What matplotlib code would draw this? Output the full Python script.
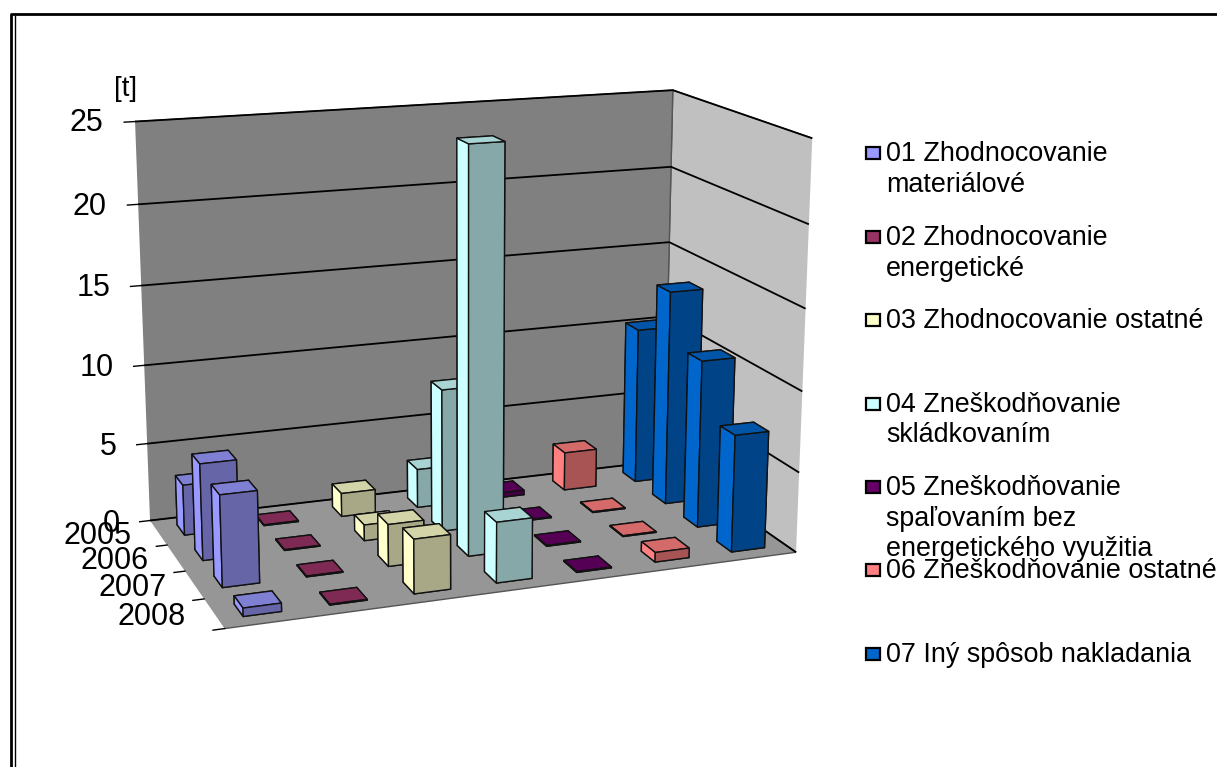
import matplotlib
matplotlib.use("Agg")
import matplotlib.pyplot as plt
from matplotlib.colors import to_rgb
from matplotlib.patches import Rectangle
import numpy as np

plt.rcParams['font.family'] = ['Liberation Sans', 'DejaVu Sans']

years = ["2005", "2006", "2007", "2008"]
series_names = [
    "01 Zhodnocovanie\nmateriálové",
    "02 Zhodnocovanie\nenergetické",
    "03 Zhodnocovanie ostatné",
    "04 Zneškodňovanie\nskládkovaním",
    "05 Zneškodňovanie\nspaľovaním bez\nenergetického využitia",
    "06 Zneškodňovanie ostatné",
    "07 Iný spôsob nakladania",
]
series_colors = ["#9999FF", "#993366", "#FFFFCC", "#CCFFFF", "#660066", "#FF8080", "#0066CC"]
legend_y = [154, 238, 321, 405, 488, 571, 655]

v01 = [3.2, 6.0, 5.6, 0.5]
v02 = [0.05, 0.05, 0.05, 0.05]
v03 = [1.5, 1.0, 2.6, 3.3]
v04 = [2.5, 9.0, 24.8, 3.7]
v05 = [0.3, 0.05, 0.05, 0.05]
v06 = [2.5, 0.05, 0.05, 0.6]
v07 = [10.2, 13.8, 10.6, 7.3]
values = [v01, v02, v03, v04, v05, v06, v07]
z_ticks = [0, 5, 10, 15, 20, 25]

fig = plt.figure(figsize=(12.17, 7.67), dpi=100, facecolor='white')
ax = fig.add_axes([-0.017, -0.117, 0.78, 1.32], projection='3d')
ax.patch.set_alpha(0)
ax.set_proj_type('persp', focal_length=0.45)
ax.view_init(elev=15, azim=-110)
ax.set_box_aspect((7, 3.75, 5.0), zoom=0.807)

n_series, n_years = len(values), len(years)
bar_dx, bar_dy = 0.44, 0.42
xs, ys, dz, face_colors = [], [], [], []
for s, vals in enumerate(values):
    base = np.array(to_rgb(series_colors[s]))
    for i, v in enumerate(vals):
        xs.append(s + (1 - bar_dx) / 2)
        ys.append(n_years - 1 - i + (1 - bar_dy) / 2)
        dz.append(v)
        # bottom, top, front, back, left, right
        face_colors += [base * 0.6, base * 0.83, base * 0.66, base * 0.66, base, base * 0.66]

ax.bar3d(xs, ys, 0, bar_dx, bar_dy, dz, color=face_colors, shade=False,
         edgecolor='#111111', linewidth=1.0)

ax.set_xlim(0, n_series)
ax.set_ylim(0, n_years)
ax.set_zlim(0, 25)
ax.set_xticks([])
ax.set_yticks([])
ax.set_zticks(z_ticks)
ax.set_zticklabels([])
ax.zaxis._axinfo['grid'].update(color='black', linewidth=1.3)
ax.zaxis._axinfo['tick'].update(inward_factor=0, outward_factor=0)
ax.xaxis.set_pane_color('#C0C0C0')
ax.yaxis.set_pane_color('#808080')
ax.zaxis.set_pane_color('#969696')
for axis in (ax.xaxis, ax.yaxis, ax.zaxis):
    axis.line.set_visible(False)
    axis.pane.set_edgecolor('#555555')

for z in z_ticks:
    ax.plot([-0.13, 0], [n_years, n_years], [z, z], color='black', lw=1)
    ax.text(-0.38, n_years, z, str(z), ha='right', va='center', fontsize=22)
for i, year in enumerate(years):
    ax.plot([-0.13, 0], [i, i], [0, 0], color='black', lw=1)
    ax.text(-0.33, n_years - 1 - i + 0.5, 0, year, ha='right', va='center', fontsize=22)

# frame, unit and legend in pixel coordinates
ov = fig.add_axes([0, 0, 1, 1], facecolor='none')
ov.set_xlim(0, 1217)
ov.set_ylim(767, 0)
ov.axis('off')
ov.plot([11, 11, 1217], [767, 14, 14], color='black', lw=2)
ov.plot([14.5, 14.5], [16, 767], color='black', lw=1)
ov.text(126, 89, "[t]", ha='center', va='center', fontsize=20)
for name, color, y0 in zip(series_names, series_colors, legend_y):
    ov.add_patch(Rectangle((866, y0 - 7), 14, 12, facecolor=color, edgecolor='black', lw=1.6))
    for k, line in enumerate(name.split("\n")):
        ov.text(886, y0 + k * 30.5, line, ha='left', va='center', fontsize=19.4)

fig.savefig("out.png", dpi=100)
